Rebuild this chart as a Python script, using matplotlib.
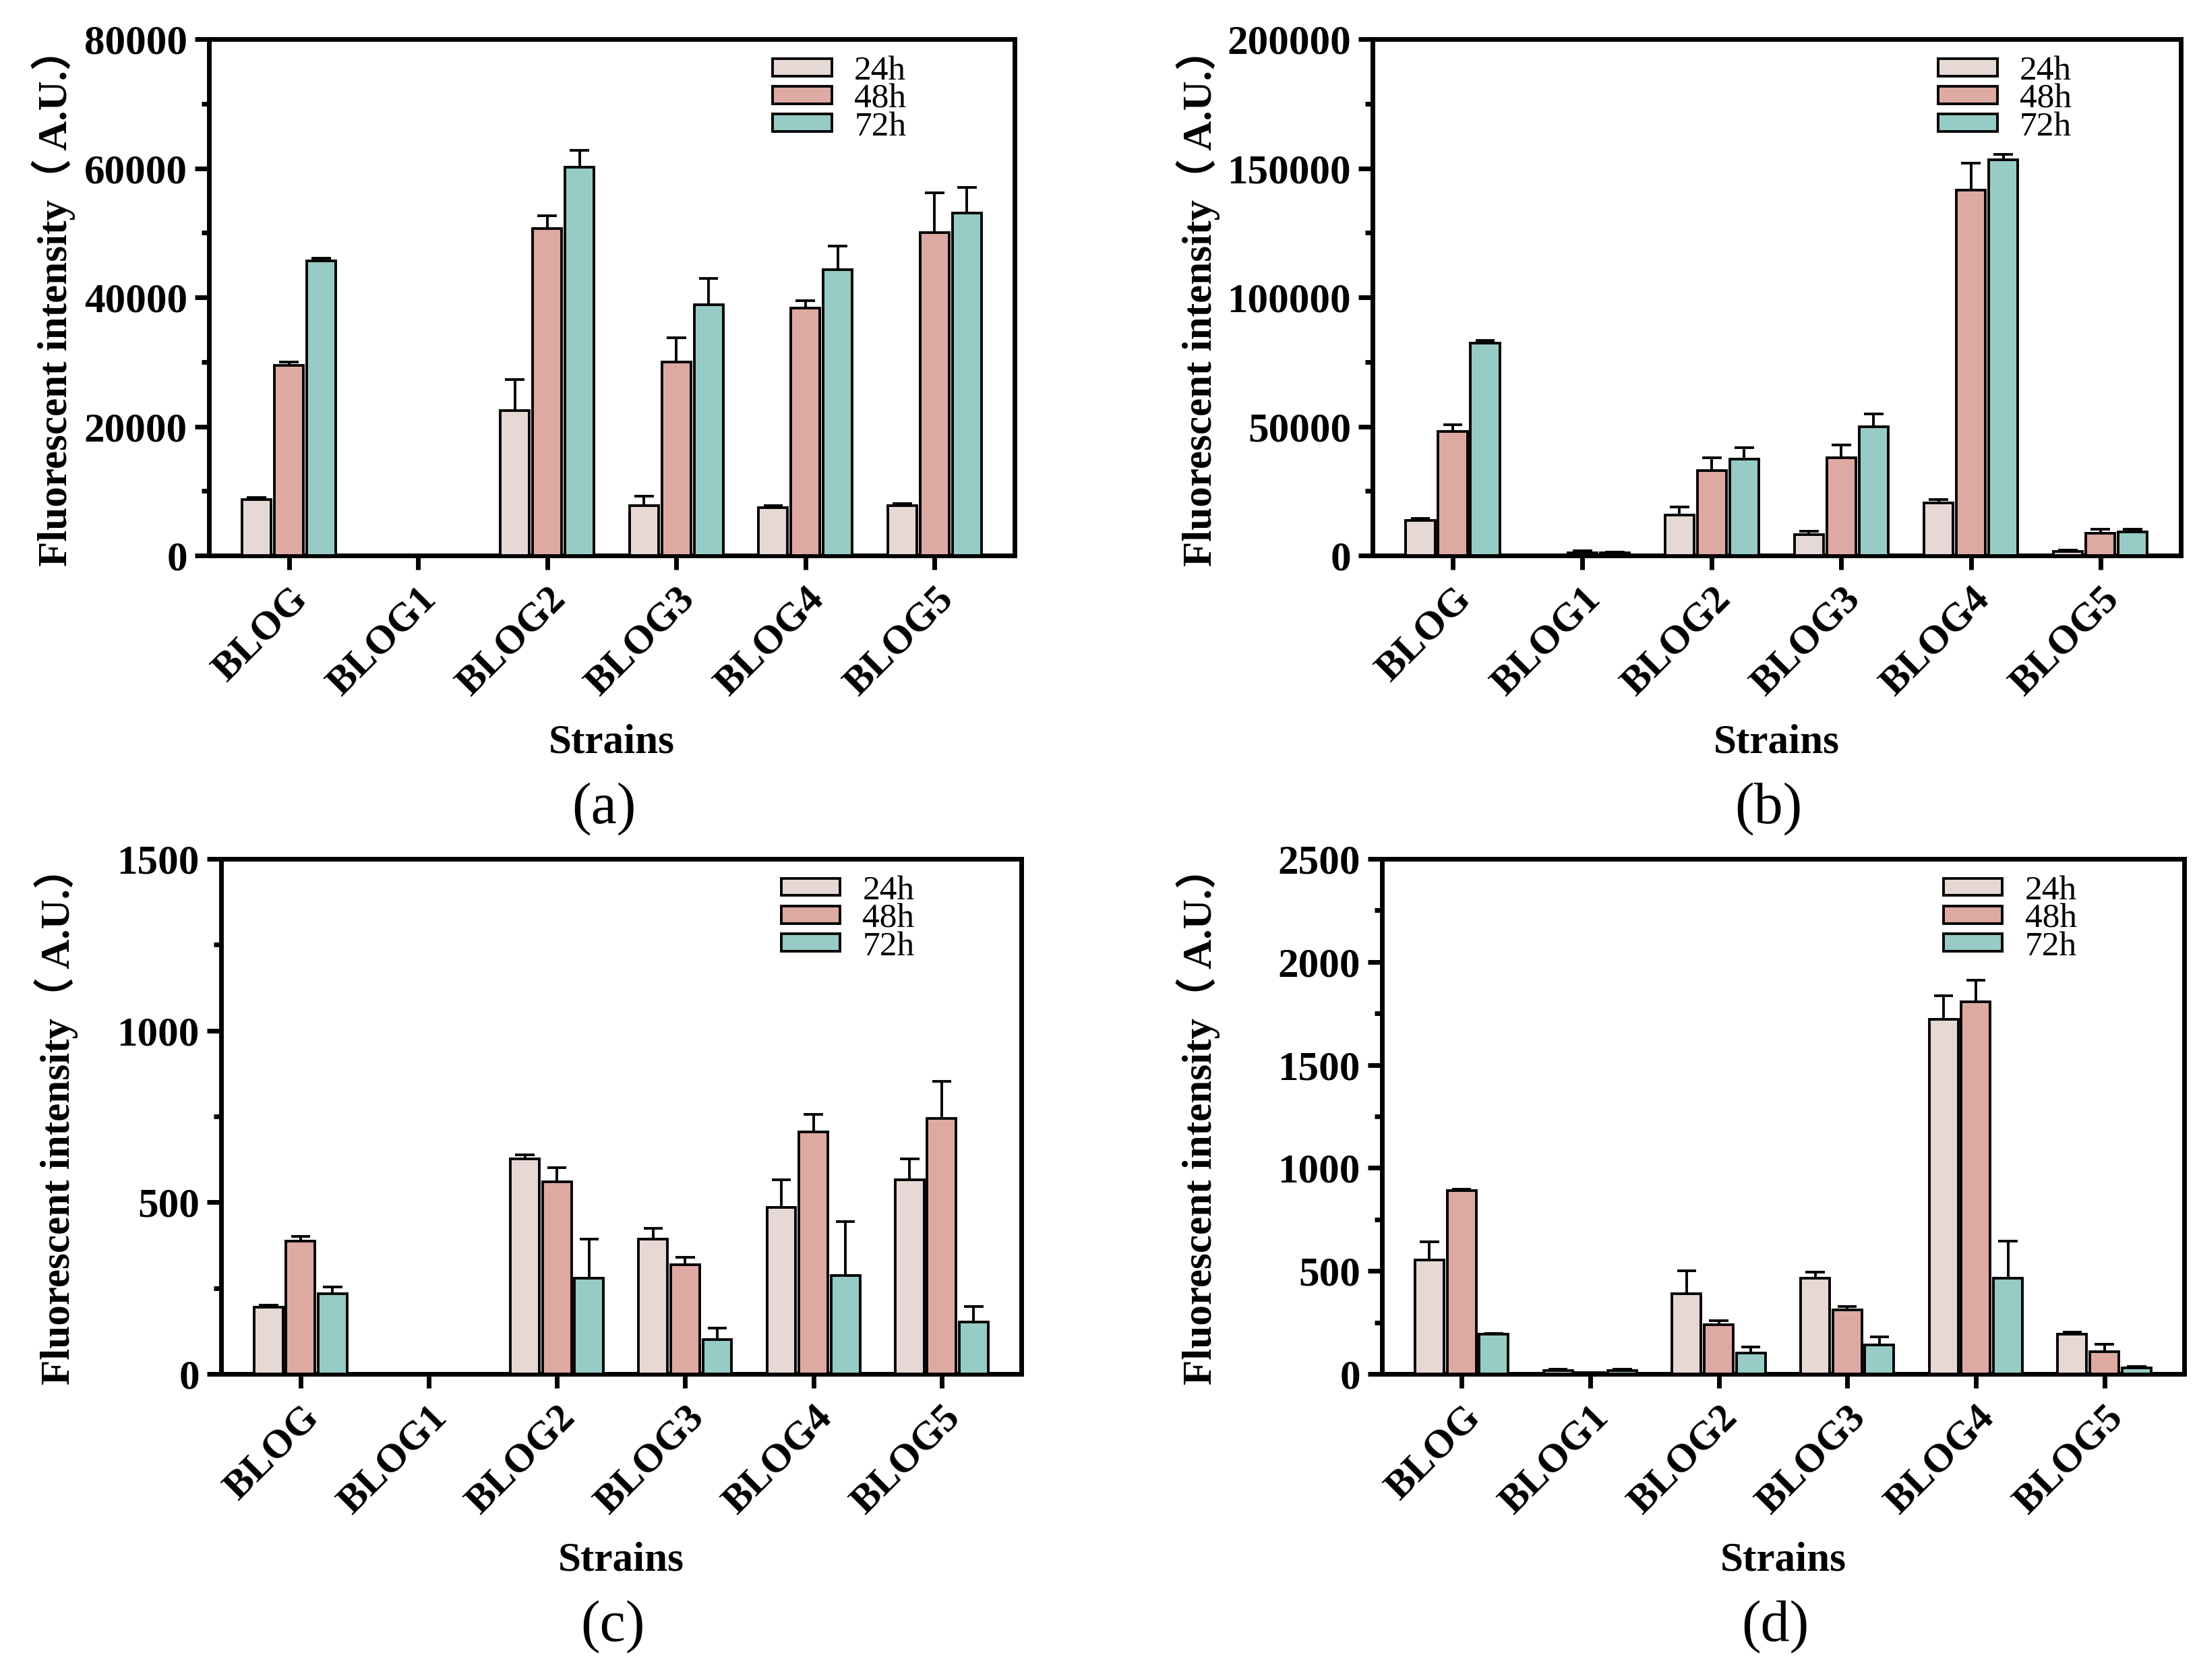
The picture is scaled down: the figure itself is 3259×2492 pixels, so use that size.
import numpy as np
import matplotlib
matplotlib.use('Agg')
from matplotlib import pyplot as plt
from matplotlib.ticker import MultipleLocator


strains = ['BLOG', 'BLOG1', 'BLOG2', 'BLOG3', 'BLOG4', 'BLOG5']
times = ['24h', '48h', '72h']
colors = ['#E6D8D5', '#DFA9A3', '#97CBC5']

# (a)
a_24 = [8700, 0, 22500, 7700, 7400, 7700]
a_48 = [29500, 0, 50700, 30000, 38300, 50000]
a_72 = [45700, 0, 60200, 38900, 44300, 53100]
a_24_err = [300, 0, 4800, 1500, 300, 400]
a_48_err = [500, 0, 1900, 3700, 1200, 6200]
a_72_err = [400, 0, 2600, 4000, 3600, 3900]

# (b)
b_24 = [13700, 300, 15600, 8100, 20300, 1600]
b_48 = [48100, 1200, 33000, 37800, 141500, 8700]
b_72 = [82200, 1100, 37300, 49800, 153300, 9100]
b_24_err = [600, 0, 3100, 1400, 1400, 600]
b_48_err = [2500, 600, 5000, 5000, 10500, 1400]
b_72_err = [1000, 200, 4500, 5000, 2000, 1200]

# (c)
c_24 = [195, 0, 626, 393, 484, 565]
c_48 = [386, 0, 559, 317, 705, 743]
c_72 = [234, 0, 278, 100, 287, 151]
c_24_err = [5, 0, 12, 30, 81, 61]
c_48_err = [15, 0, 42, 22, 50, 108]
c_72_err = [19, 0, 114, 34, 156, 46]

# (d)
d_24 = [554, 16, 390, 463, 1722, 192]
d_48 = [890, 8, 239, 312, 1805, 107]
d_72 = [192, 16, 101, 140, 463, 29]
d_24_err = [88, 8, 109, 31, 114, 10]
d_48_err = [7, 0, 18, 16, 107, 36]
d_72_err = [3, 7, 29, 39, 182, 8]

ylabel = 'Fluorescent intensity（ A.U.）'
fam = ['Liberation Serif', 'Noto Sans CJK SC', 'DejaVu Serif']
plt.rcParams['font.family'] = fam


def draw_panel(ax, vals, errs, ymax, major, minor, letter, ylab_x):
    x = np.arange(len(strains))
    offs = [-0.25, 0, 0.25]
    for i in range(3):
        v = np.array(vals[i], dtype=float)
        e = np.array(errs[i], dtype=float)
        xi = x + offs[i]
        # 误差线（只画上半部分）
        m = e > 0
        ax.vlines(xi[m], v[m], v[m] + e[m], colors='k', linewidth=2.8, zorder=2)
        ax.hlines(v[m] + e[m], xi[m] - 0.075, xi[m] + 0.075, colors='k', linewidth=2.8, zorder=2)
        ax.bar(xi, v, width=0.225, color=colors[i], edgecolor='k', linewidth=2.8,
               label=times[i], zorder=3)
    ax.set_xlim(-0.62, 5.62)
    ax.set_ylim(0, ymax)
    ax.yaxis.set_major_locator(MultipleLocator(major))
    ax.yaxis.set_minor_locator(MultipleLocator(minor))
    ax.set_xticks(x)
    ax.set_xticklabels(strains, rotation=45, ha='right', va='top', rotation_mode='anchor',
                       fontsize=43, fontweight='bold')
    for lab in ax.get_yticklabels():
        lab.set_fontsize(44)
        lab.set_fontweight('bold')
    ax.tick_params(axis='both', which='major', length=15, width=5, direction='out', pad=8)
    ax.tick_params(axis='y', which='minor', length=8, width=5, direction='out')
    ax.tick_params(axis='x', which='major', pad=12)
    for s in ax.spines.values():
        s.set_linewidth(5)
    ax.text(ylab_x, 0.5, ylabel, rotation=90, ha='center', va='center',
            transform=ax.transAxes, fontsize=44, fontweight='bold', family=fam)
    ax.text(0.5, -0.362, 'Strains', ha='center', va='center', transform=ax.transAxes,
            fontsize=44, fontweight='bold')
    ax.text(0.49, -0.49, letter, ha='center', va='center', transform=ax.transAxes,
            fontsize=62)
    ax.legend(loc='upper left', bbox_to_anchor=(0.70, 0.968), frameon=False,
              fontsize=37, handlelength=1.7, handleheight=0.4, handletextpad=0.65,
              labelspacing=-0.1, borderpad=0, borderaxespad=0)


fig = plt.figure(figsize=(32.59, 24.92), dpi=100)
ax_a = fig.add_axes([0.0951, 0.6693, 0.3667, 0.3074])
ax_b = fig.add_axes([0.6247, 0.6693, 0.3679, 0.3074])
ax_c = fig.add_axes([0.1006, 0.1822, 0.3642, 0.3066])
ax_d = fig.add_axes([0.6290, 0.1822, 0.3651, 0.3066])

draw_panel(ax_a, [a_24, a_48, a_72], [a_24_err, a_48_err, a_72_err], 80000, 20000, 10000, '(a)', -0.193)
draw_panel(ax_b, [b_24, b_48, b_72], [b_24_err, b_48_err, b_72_err], 200000, 50000, 25000, '(b)', -0.216)
draw_panel(ax_c, [c_24, c_48, c_72], [c_24_err, c_48_err, c_72_err], 1500, 500, 250, '(c)', -0.206)
draw_panel(ax_d, [d_24, d_48, d_72], [d_24_err, d_48_err, d_72_err], 2500, 500, 250, '(d)', -0.229)

fig.savefig('out.png', dpi=100)
